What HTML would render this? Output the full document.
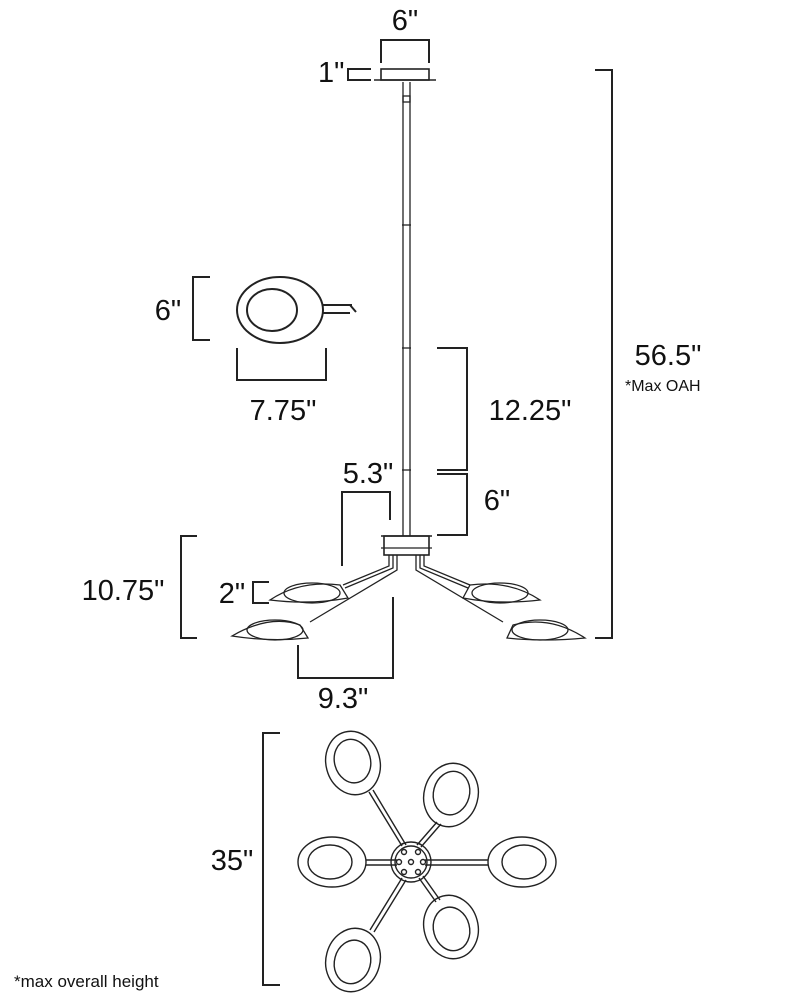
<!DOCTYPE html>
<html><head><style>body{margin:0;background:#fff}svg{display:block}text{font-family:"Liberation Sans",sans-serif;fill:#111}</style></head><body>
<svg width="800" height="998" viewBox="0 0 800 998" xmlns="http://www.w3.org/2000/svg" fill="none" stroke="#222" stroke-width="2">
<!-- canopy -->
<text x="405" y="30" font-size="29" text-anchor="middle" stroke="none">6"</text>
<path d="M381 63V40H429V63"/>
<rect x="381" y="69" width="48" height="11" stroke-width="1.6"/>
<line x1="374" y1="80" x2="436" y2="80" stroke-width="1.6"/>
<text x="318" y="82" font-size="29" stroke="none">1"</text>
<path d="M371 69H348V80H371" />
<!-- stem -->
<g stroke-width="1.3">
<line x1="403" y1="82" x2="403" y2="536"/><line x1="410" y1="82" x2="410" y2="536"/>
<line x1="402" y1="225" x2="411" y2="225"/><line x1="402" y1="348" x2="411" y2="348"/><line x1="402" y1="470" x2="411" y2="470"/>
<rect x="403" y="96" width="7" height="6"/>
</g>
<!-- 56.5 -->
<path d="M595 70H612V638H595"/>
<text x="668" y="365" font-size="29" text-anchor="middle" stroke="none">56.5"</text>
<text x="625" y="391" font-size="16" stroke="none">*Max OAH</text>
<!-- 12.25 / 6 -->
<path d="M437 348H467V470H437"/>
<text x="530" y="420" font-size="29" text-anchor="middle" stroke="none">12.25"</text>
<path d="M437 474H467V535H437"/>
<text x="497" y="510" font-size="29" text-anchor="middle" stroke="none">6"</text>
<!-- 5.3 -->
<text x="368" y="483" font-size="29" text-anchor="middle" stroke="none">5.3"</text>
<path d="M342 566V492H390V520"/>
<!-- body -->
<rect x="384" y="536" width="45" height="19" stroke-width="1.6"/>
<line x1="381" y1="536" x2="432" y2="536" stroke-width="1.6"/>
<line x1="381" y1="548" x2="432" y2="548" stroke-width="1.2"/>
<!-- arms -->
<g stroke-width="1.3">
<path d="M393 555V568L345 588M397 555V570L310 622"/>
<path d="M389 555V566L343 585"/>
<path d="M420 555V568L468 588M416 555V570L503 622"/>
<path d="M424 555V566L470 585"/>
</g>
<!-- lamps -->
<g stroke-width="1.3">
<path d="M270 600Q300 580 340 585L348 598Q310 605 270 600Z"/><ellipse cx="312" cy="593" rx="28" ry="10"/>
<path d="M232 636Q270 614 300 625L308 638Q270 642 232 636Z"/><ellipse cx="275" cy="630" rx="28" ry="10"/>
<path d="M540 600Q510 580 470 585L463 598Q500 605 540 600Z"/><ellipse cx="500" cy="593" rx="28" ry="10"/>
<path d="M585 638Q550 615 513 625L507 638Q545 642 585 638Z"/><ellipse cx="540" cy="630" rx="28" ry="10"/>
</g>
<!-- 10.75 / 2 -->
<path d="M197 536H181V638H197"/>
<text x="123" y="600" font-size="29" text-anchor="middle" stroke="none">10.75"</text>
<path d="M269 582H253V603H269"/>
<text x="232" y="603" font-size="29" text-anchor="middle" stroke="none">2"</text>
<!-- 9.3 -->
<path d="M298 645V678H393V597"/>
<text x="343" y="708" font-size="29" text-anchor="middle" stroke="none">9.3"</text>
<!-- side shade -->
<ellipse cx="280" cy="310" rx="43" ry="33"/>
<ellipse cx="272" cy="310" rx="25" ry="21"/>
<path d="M322 305H352M322 313H350M350 305L356 312"/>
<path d="M210 277H193V340H210"/>
<text x="168" y="320" font-size="29" text-anchor="middle" stroke="none">6"</text>
<path d="M237 348V380H326V348"/>
<text x="283" y="420" font-size="29" text-anchor="middle" stroke="none">7.75"</text>
<!-- bottom view -->
<path d="M280 733H263V985H280"/>
<text x="232" y="870" font-size="29" text-anchor="middle" stroke="none">35"</text>
<g stroke-width="1.4">
<path d="M369 792L402 846M373 790L406 845"/>
<path d="M437 822L417 845M441 824L421 847"/>
<path d="M366 860H397M366 865H397"/>
<path d="M425 860H488M425 865H488"/>
<path d="M419 878L436 902M423 876L440 900"/>
<path d="M402 878L370 930M406 880L374 932"/>
<circle cx="411" cy="862" r="20"/><circle cx="411" cy="862" r="16"/>
<circle cx="411" cy="862" r="2.5"/><circle cx="404" cy="852" r="2.5"/><circle cx="418" cy="852" r="2.5"/>
<circle cx="399" cy="862" r="2.5"/><circle cx="423" cy="862" r="2.5"/><circle cx="404" cy="872" r="2.5"/><circle cx="418" cy="872" r="2.5"/>
<g transform="rotate(-15 353 763)"><ellipse cx="353" cy="763" rx="27" ry="32"/><ellipse cx="353" cy="761" rx="18" ry="22"/></g>
<g transform="rotate(15 451 795)"><ellipse cx="451" cy="795" rx="27" ry="32"/><ellipse cx="451" cy="793" rx="18" ry="22"/></g>
<ellipse cx="332" cy="862" rx="34" ry="25"/><ellipse cx="330" cy="862" rx="22" ry="17"/>
<ellipse cx="522" cy="862" rx="34" ry="25"/><ellipse cx="524" cy="862" rx="22" ry="17"/>
<g transform="rotate(-15 451 927)"><ellipse cx="451" cy="927" rx="27" ry="32"/><ellipse cx="451" cy="929" rx="18" ry="22"/></g>
<g transform="rotate(15 353 960)"><ellipse cx="353" cy="960" rx="27" ry="32"/><ellipse cx="353" cy="962" rx="18" ry="22"/></g>
</g>
<text x="14" y="987" font-size="17" stroke="none">*max overall height</text>
</svg>
</body></html>
